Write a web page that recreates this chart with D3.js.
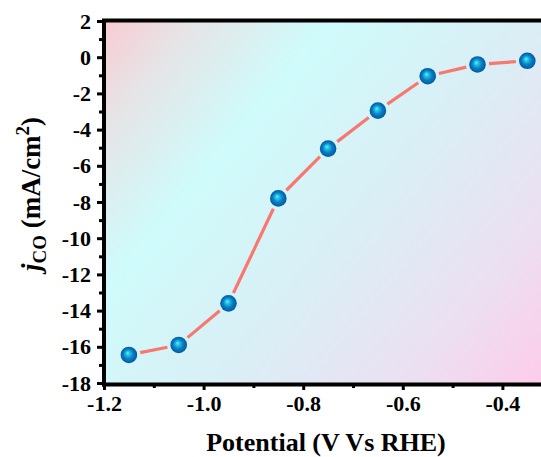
<!DOCTYPE html>
<html>
<head>
<meta charset="utf-8">
<script src="https://cdn.jsdelivr.net/npm/d3@7/dist/d3.min.js"></script>
<style>
  html, body { margin: 0; padding: 0; background: #fff; }
  svg { display: block; }
  text { font-family: "Liberation Serif", "Times New Roman", serif; font-weight: bold; }
</style>
</head>
<body>
<svg id="chart" width="541" height="457"></svg>
<script>
// Potential (V vs RHE) and CO partial current density (mA/cm^2)
const potentials = [-1.15, -1.05, -0.95, -0.85, -0.75, -0.65, -0.55, -0.45, -0.35];
const jCO = [-16.45, -15.9, -13.6, -7.8, -5.05, -2.95, -1.05, -0.4, -0.2];
const xTicks = [-1.2, -1.0, -0.8, -0.6, -0.4];
const yTicks = [2, 0, -2, -4, -6, -8, -10, -12, -14, -16, -18];

const svg = d3.select("#chart");
const plotLeft = 104, plotTop = 21, plotBottom = 383, plotRight = 602;

const x = d3.scaleLinear().domain([-1.2, -0.2]).range([plotLeft, plotRight]);
const y = d3.scaleLinear().domain([-18, 2]).range([plotBottom, plotTop]);

const defs = svg.append("defs");

// diagonal background wash for the plot area
const bg = defs.append("linearGradient")
  .attr("id", "bgGrad")
  .attr("gradientUnits", "userSpaceOnUse")
  .attr("x1", plotLeft).attr("y1", plotTop)
  .attr("x2", 545).attr("y2", 390);
[[0, "#f9cbd3"], [0.12, "#e6e4e6"], [0.3, "#cffbfb"], [0.55, "#d9eff6"], [0.8, "#ebe0f2"], [1, "#fecbe9"]]
  .forEach(([o, c]) => bg.append("stop").attr("offset", o).attr("stop-color", c));

// glossy sphere markers
const ball = defs.append("radialGradient")
  .attr("id", "ballGrad")
  .attr("cx", "0.5").attr("cy", "0.5").attr("r", "0.5")
  .attr("fx", "0.42").attr("fy", "0.38");
[[0, "#5cf4fa"], [0.25, "#20c0e4"], [0.6, "#0a7cc2"], [1, "#005a9e"]]
  .forEach(([o, c]) => ball.append("stop").attr("offset", o).attr("stop-color", c));

svg.append("rect")
  .attr("x", plotLeft).attr("y", plotTop)
  .attr("width", 541 - plotLeft).attr("height", plotBottom - plotTop)
  .attr("fill", "url(#bgGrad)");

// connecting line segments, trimmed so they stop short of each marker
const pts = potentials.map((p, i) => [x(p), y(jCO[i])]);
const gap = 11.5;
const segs = d3.pairs(pts).map(([a, b]) => {
  const dx = b[0] - a[0], dy = b[1] - a[1];
  const L = Math.hypot(dx, dy);
  const ux = dx / L, uy = dy / L;
  return [a[0] + ux * gap, a[1] + uy * gap, b[0] - ux * gap, b[1] - uy * gap];
});
svg.append("g").selectAll("line").data(segs).join("line")
  .attr("x1", d => d[0]).attr("y1", d => d[1])
  .attr("x2", d => d[2]).attr("y2", d => d[3])
  .attr("stroke", "#f8786f").attr("stroke-width", 3.2);

svg.append("g").selectAll("circle").data(potentials).join("circle")
  .attr("cx", d => x(d)).attr("cy", (d, i) => y(jCO[i]))
  .attr("r", 8.3)
  .attr("fill", "url(#ballGrad)");

// axes (plain hyphen-minus in labels)
const yAxis = d3.axisLeft(y).tickValues(yTicks).tickFormat(d => String(d))
  .tickSize(5).tickPadding(6);
const yMinor = d3.axisLeft(y).tickValues(d3.range(-17, 2, 2)).tickFormat("").tickSize(3);
const xAxis = d3.axisBottom(x).tickValues(xTicks).tickFormat(d => d.toFixed(1))
  .tickSize(5).tickPadding(5);
const xMinor = d3.axisBottom(x).tickValues([-1.1, -0.9, -0.7, -0.5, -0.3]).tickFormat("").tickSize(3);

function style(g, fs) {
  g.select(".domain").remove();
  g.selectAll(".tick line").attr("stroke", "#000").attr("stroke-width", 3);
  g.selectAll(".tick text").attr("fill", "#000").style("font-size", fs + "px");
}

svg.append("g").attr("transform", `translate(${plotLeft - 2},0)`).call(yMinor).call(g => style(g, 22));
svg.append("g").attr("transform", `translate(${plotLeft - 2},0)`).call(yAxis).call(g => style(g, 22));
svg.append("g").attr("transform", `translate(0,${plotBottom + 2})`).call(xMinor).call(g => style(g, 22));
svg.append("g").attr("transform", `translate(0,${plotBottom + 2})`).call(xAxis).call(g => style(g, 22));

// frame lines
svg.append("line").attr("x1", plotLeft).attr("x2", plotLeft).attr("y1", plotTop - 2).attr("y2", plotBottom + 3.5)
  .attr("stroke", "#000").attr("stroke-width", 4);
svg.append("line").attr("x1", plotLeft - 2).attr("x2", 541).attr("y1", plotBottom + 1.5).attr("y2", plotBottom + 1.5)
  .attr("stroke", "#000").attr("stroke-width", 4);
svg.append("line").attr("x1", plotLeft - 2).attr("x2", 541).attr("y1", plotTop - 0.5).attr("y2", plotTop - 0.5)
  .attr("stroke", "#000").attr("stroke-width", 4);

// axis titles
svg.append("text")
  .attr("x", 326).attr("y", 451)
  .attr("text-anchor", "middle")
  .style("font-size", "26px")
  .text("Potential (V Vs RHE)");

const yl = svg.append("text")
  .attr("transform", "translate(40,194) rotate(-90)")
  .attr("text-anchor", "middle")
  .style("font-size", "27px");
yl.append("tspan").style("font-style", "italic").text("j");
yl.append("tspan").attr("dy", 6).style("font-size", "19px").text("CO");
yl.append("tspan").attr("dy", -6).text(" (mA/cm");
yl.append("tspan").attr("dy", -11).style("font-size", "19px").text("2");
yl.append("tspan").attr("dy", 11).text(")");
</script>
</body>
</html>
